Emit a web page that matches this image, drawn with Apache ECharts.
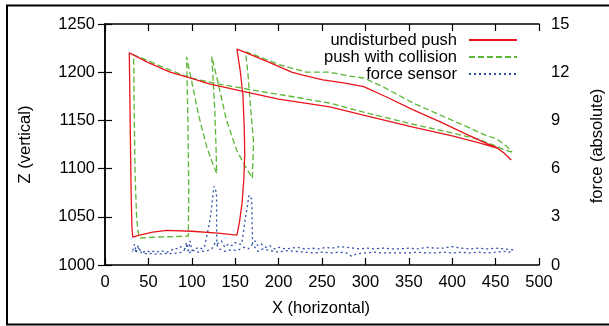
<!DOCTYPE html>
<html>
<head>
<meta charset="utf-8">
<script src="https://cdn.jsdelivr.net/npm/echarts@6/dist/echarts.min.js"></script>
<style>html,body{margin:0;padding:0;background:#fff}#c{width:609px;height:326px}</style>
</head>
<body>
<div id="c"></div>
<script>
var seriesNames = ['undisturbed push', 'push with collision', 'force sensor'];
var xTicks = [0, 50, 100, 150, 200, 250, 300, 350, 400, 450, 500];
var zTicks = [1000, 1050, 1100, 1150, 1200, 1250];
var forceTicks = [0, 3, 6, 9, 12, 15];

// undisturbed push (X, Z)
var redX = [453, 430, 400, 355, 300, 259, 200, 159, 120, 98, 75, 50, 28,
            29, 30, 31, 32,
            40, 55, 71, 100, 130, 152,
            155, 158, 160, 161, 160.5, 159, 156, 152,
            163, 190, 215, 228, 251, 275, 298, 325, 355, 385, 413, 440, 451, 460, 468];
var redZ = [1121, 1127, 1134, 1143, 1155, 1164, 1172, 1180, 1188, 1194, 1200, 1210, 1220,
            1150, 1080, 1040, 1029,
            1031, 1034, 1036, 1035, 1033, 1031,
            1045, 1065, 1090, 1115, 1140, 1175, 1200, 1224,
            1220, 1210, 1200, 1197, 1192, 1189, 1185, 1174, 1161, 1149, 1137, 1126, 1122, 1116, 1109];

// push with collision (X, Z)
var greenX = [469, 459, 432, 400, 355, 300, 259, 220, 167, 130, 98, 70, 44, 33,
              33.5, 34.6, 36.4, 38, 40,
              60, 80, 96,
              96.5, 95.5, 94,
              100, 108, 117, 123, 128.7,
              128, 126.5, 124.8, 123,
              130, 140, 151.7, 160, 169.7,
              170.9, 170.9, 169, 167, 165, 162,
              175, 200, 232, 259, 282, 298, 320, 355, 385, 413, 440, 451, 463, 469];
var greenZ = [1117, 1120, 1130, 1137, 1146, 1158, 1168, 1174, 1182, 1188, 1194, 1204, 1214, 1218,
              1170, 1095, 1050, 1035, 1028,
              1029, 1029.5, 1030,
              1080, 1150, 1216,
              1190, 1155, 1123, 1108, 1095,
              1120, 1160, 1188, 1216,
              1190, 1150, 1119, 1105, 1090,
              1119, 1130, 1150, 1171, 1195, 1221,
              1217, 1208, 1200, 1200, 1196, 1194, 1185, 1168, 1156, 1145, 1134, 1131, 1123, 1117];

// force sensor (X, force): outward pass then return pass
var forceX = [32, 34, 36, 38, 40, 44, 48, 52, 56, 60, 64, 68, 72, 76, 80, 84, 88, 92, 94, 96, 98, 100, 104, 108, 112, 115,
              117, 121, 125.6, 128.5, 128.7, 131, 134, 138, 142, 146, 150, 154, 157.5, 162, 166, 169, 170,
              173, 176, 180, 185, 190, 195, 200, 208, 215, 222, 230, 238, 246, 254, 262, 270, 278, 286, 294, 302, 310,
              320, 330, 340, 350, 360, 370, 380, 390, 400, 410, 420, 430, 440, 450, 460, 470,
              466, 458, 450, 440, 430, 420, 410, 400, 390, 380, 370, 360, 350, 340, 330, 320, 310, 300, 290, 284, 278, 270,
              260, 250, 240, 230, 220, 210, 200, 190, 182, 176, 170, 165, 160, 152, 145, 138, 132, 127, 123, 118, 112,
              106, 100, 97, 94, 90, 84, 78, 72, 66, 60, 54, 48, 42, 38, 34, 31];
var forceF = [0.9, 1.3, 0.8, 1.2, 0.95, 0.8, 0.9, 0.8, 0.85, 0.8, 0.9, 0.85, 0.8, 0.9, 1.05, 1.0, 1.15, 1.0, 1.4, 0.9, 1.5, 0.9, 1.0, 1.1, 1.0, 1.2,
              1.3, 2.8, 4.9, 4.5, 1.3, 1.2, 1.5, 1.1, 1.3, 1.2, 1.4, 1.3, 1.3, 3.0, 4.35, 4.1, 1.3,
              1.5, 1.2, 1.3, 1.1, 1.2, 1.0, 1.1, 1.0, 1.05, 1.1, 1.0, 1.05, 1.0, 1.1, 1.05, 1.15, 1.1, 1.05, 1.0, 1.05, 1.0,
              1.05, 1.0, 1.0, 1.05, 1.0, 1.1, 1.05, 1.05, 1.15, 1.05, 1.0, 1.05, 1.0, 1.05, 1.0, 0.95,
              0.8, 0.85, 0.8, 0.75, 0.8, 0.75, 0.8, 0.75, 0.8, 0.75, 0.75, 0.8, 0.75, 0.75, 0.75, 0.75, 0.8, 0.75, 0.7, 0.55, 0.75, 0.8,
              0.75, 0.8, 0.75, 0.8, 0.85, 0.9, 0.8, 0.9, 1.0, 0.85, 1.3, 1.0, 1.1, 0.9, 0.95, 0.85, 1.0, 1.4, 1.0, 0.9, 0.85,
              0.8, 0.95, 0.7, 1.2, 0.8, 0.75, 0.7, 0.72, 0.7, 0.68, 0.72, 0.7, 0.75, 1.1, 0.8, 0.85];

function pairs(a, b) { return a.map(function (v, i) { return [v, b[i]]; }); }

var FONT = '"Liberation Sans", Arial, Helvetica, sans-serif';
var FS = 16.5;
var RED = '#e8161c', GREEN = '#5cb635', BLUE = '#2f4fa8';
var axisLine = { lineStyle: { color: '#000', width: 1.5 } };
var tick = { inside: true, length: 7, lineStyle: { color: '#000', width: 1.2 } };
var lbl = { color: '#000', fontSize: FS, fontFamily: FONT };

function legendFor(name, top) {
  return {
    data: [name], right: 91, top: top, padding: 0, align: 'right', orient: 'horizontal',
    itemWidth: 48, itemHeight: 14, selectedMode: false,
    itemStyle: { color: 'rgba(0,0,0,0)', borderWidth: 0, opacity: 0 },
    textStyle: { color: '#000', fontSize: FS, fontFamily: FONT, lineHeight: 17, padding: [0, 7, 0, 0] }
  };
}

var chart = echarts.init(document.getElementById('c'), null, { renderer: 'canvas' });
chart.setOption({
  animation: false,
  backgroundColor: '#fff',
  grid: { left: 105, right: 70, top: 24, bottom: 61, containLabel: false },
  xAxis: [
    { type: 'value', min: 0, max: 500, interval: 50, position: 'bottom',
      axisLine: axisLine, axisTick: tick, splitLine: { show: false },
      axisLabel: Object.assign({ margin: 9, formatter: function (v) { return xTicks.indexOf(v) >= 0 ? String(v) : ''; } }, lbl) },
    { type: 'value', min: 0, max: 500, interval: 50, position: 'top',
      axisLine: axisLine, axisTick: tick, splitLine: { show: false }, axisLabel: { show: false } }
  ],
  yAxis: [
    { type: 'value', min: 1000, max: 1250, interval: 50, position: 'left',
      axisLine: axisLine, axisTick: tick, splitLine: { show: false },
      axisLabel: Object.assign({ margin: 10, formatter: function (v) { return zTicks.indexOf(v) >= 0 ? String(v) : ''; } }, lbl) },
    { type: 'value', min: 0, max: 15, interval: 3, position: 'right',
      axisLine: axisLine, axisTick: tick, splitLine: { show: false },
      axisLabel: Object.assign({ margin: 12, formatter: function (v) { return forceTicks.indexOf(v) >= 0 ? String(v) : ''; } }, lbl) }
  ],
  legend: [legendFor(seriesNames[0], 31.5), legendFor(seriesNames[1], 48.5), legendFor(seriesNames[2], 65.5)],
  series: [
    { name: seriesNames[0], type: 'line', xAxisIndex: 0, yAxisIndex: 0, data: pairs(redX, redZ),
      showSymbol: false, symbol: 'none', lineStyle: { color: RED, width: 1.3 }, itemStyle: { color: RED }, z: 3 },
    { name: seriesNames[1], type: 'line', xAxisIndex: 0, yAxisIndex: 0, data: pairs(greenX, greenZ),
      showSymbol: false, symbol: 'none', lineStyle: { color: GREEN, width: 1.3, type: [6, 3] }, itemStyle: { color: GREEN }, z: 2 },
    { name: seriesNames[2], type: 'line', xAxisIndex: 0, yAxisIndex: 1, data: pairs(forceX, forceF),
      showSymbol: false, symbol: 'none', lineStyle: { color: BLUE, width: 1.3, type: [2, 3] }, itemStyle: { color: BLUE }, z: 1 }
  ],
  graphic: [
    { type: 'rect', shape: { x: 7, y: 5.5, width: 620, height: 319 }, style: { fill: 'none', stroke: '#000', lineWidth: 2 }, silent: true },
    { type: 'text', x: 25, y: 144.5, rotation: Math.PI / 2, style: { text: 'Z (vertical)', fill: '#000', font: FS + 'px ' + FONT, textAlign: 'center', textVerticalAlign: 'middle' } },
    { type: 'text', x: 597, y: 146, rotation: Math.PI / 2, style: { text: 'force (absolute)', fill: '#000', font: FS + 'px ' + FONT, textAlign: 'center', textVerticalAlign: 'middle' } },
    { type: 'text', x: 321, y: 308, style: { text: 'X (horizontal)', fill: '#000', font: FS + 'px ' + FONT, textAlign: 'center', textVerticalAlign: 'middle' } }
  ]
});
</script>
</body>
</html>
